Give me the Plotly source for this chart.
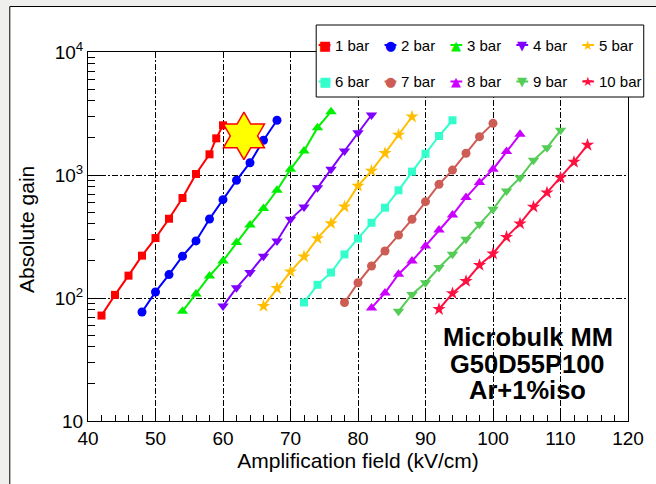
import plotly.graph_objects as go

# Gas gain curves of a microbulk Micromegas (G50D55P100) in Ar+1% isobutane,
# one curve per pressure setting.
field_1bar = [42, 44, 46, 48, 50, 52, 54, 56, 58, 59, 60]
gain_1bar = [72, 106, 152, 221, 307, 441, 650, 1019, 1473, 1986, 2535]

field_2bar = [48, 50, 52, 54, 56, 58, 60, 62, 64, 66, 68]
gain_2bar = [77, 112, 155, 219, 291, 439, 630, 906, 1259, 1916, 2786]

field_3bar = [54, 56, 58, 60, 62, 64, 66, 68, 70, 72, 74, 76]
gain_3bar = [78, 108, 151, 200, 282, 392, 535, 751, 1112, 1567, 2427, 3272]

field_4bar = [60, 62, 64, 66, 68, 70, 72, 74, 76, 78, 80, 82]
gain_4bar = [86, 121, 161, 219, 291, 436, 550, 789, 1112, 1567, 2208, 3076]

field_5bar = [66, 68, 70, 72, 74, 76, 78, 80, 82, 84, 86, 88]
gain_5bar = [86, 120, 164, 217, 305, 404, 552, 815, 1079, 1503, 2118, 2977]

field_6bar = [72, 74, 76, 78, 80, 82, 84, 86, 88, 90, 92, 94]
gain_6bar = [92, 128, 161, 226, 305, 409, 542, 751, 1065, 1490, 2075, 2786]

field_7bar = [78, 80, 82, 84, 86, 88, 90, 92, 94, 96, 98, 100]
gain_7bar = [92, 133, 182, 241, 325, 436, 607, 840, 1096, 1503, 2051, 2630]

field_8bar = [82, 84, 86, 88, 90, 92, 94, 96, 98, 100, 102, 104]
gain_8bar = [83, 110, 156, 200, 265, 357, 473, 655, 867, 1112, 1549, 2143]

field_9bar = [86, 88, 90, 92, 94, 96, 98, 100, 102, 104, 106, 108, 110]
gain_9bar = [78, 107, 133, 177, 227, 300, 397, 526, 740, 950, 1316, 1667, 2307]

field_10bar = [92, 94, 96, 98, 100, 102, 104, 106, 108, 110, 112, 114]
gain_10bar = [81, 109, 137, 185, 229, 313, 402, 550, 718, 950, 1276, 1754]

# highlighted operating point
point_field = [63.1]
point_gain = [2080]

series_names = ["1 bar", "2 bar", "3 bar", "4 bar", "5 bar",
                "6 bar", "7 bar", "8 bar", "9 bar", "10 bar"]
series_fields = [field_1bar, field_2bar, field_3bar, field_4bar, field_5bar,
                 field_6bar, field_7bar, field_8bar, field_9bar, field_10bar]
series_gains = [gain_1bar, gain_2bar, gain_3bar, gain_4bar, gain_5bar,
                gain_6bar, gain_7bar, gain_8bar, gain_9bar, gain_10bar]

colors = ["#ff0000", "#0000ff", "#00f000", "#8000ff", "#ffbf00",
          "#33ffcc", "#cd5c55", "#cc00ff", "#55cc55", "#ff1040"]
symbols = ["square", "circle", "triangle-up", "triangle-down", "star",
           "square", "circle", "triangle-up", "triangle-down", "star"]
sizes = [8, 9, 10, 10, 10, 8, 9, 10, 10, 10]
# glyphs used for the hand-placed legend
glyphs = {"square": "\u25A0", "circle": "\u25CF", "triangle-up": "\u25B2",
          "triangle-down": "\u25BC", "star": "\u2605"}

x_ticks = [40, 50, 60, 70, 80, 90, 100, 110, 120]
y_ticks = [10, 100, 1000, 10000]
y_tick_text = ["10", "10<sup>2</sup>", "10<sup>3</sup>", "10<sup>4</sup>"]

FONT = "Liberation Sans, Arial, sans-serif"

# plot-area geometry in pixels, used to place paper-referenced decorations
L, R, T, B = 88, 637, 52, 421


def px_x(px):
    return (px - L) / (R - L)


def px_y(py):
    return (B - py) / (B - T)


fig = go.Figure()

for i in range(10):
    fig.add_trace(go.Scatter(
        x=series_fields[i], y=series_gains[i], name=series_names[i],
        mode="lines+markers",
        line=dict(color=colors[i], width=2),
        marker=dict(symbol=symbols[i], size=sizes[i], color=colors[i], line=dict(width=0)),
        showlegend=False,
    ))

fig.add_trace(go.Scatter(
    x=point_field, y=point_gain, mode="markers", showlegend=False,
    marker=dict(symbol="hexagram", size=36, color="#ffff00",
                line=dict(color="#ff0000", width=1.5)),
))

grid_dash = "6px,2px,2px,2px"
minor_y = [m * 10 ** d for d in (1, 2, 3) for m in range(2, 10)]

fig.update_xaxes(
    range=[40, 120], tickmode="array", tickvals=x_ticks,
    ticks="inside", ticklen=11, tickcolor="black", tickwidth=1,
    minor=dict(ticks="inside", ticklen=6, dtick=2, tick0=40, tickcolor="black", showgrid=False),
    showline=True, linecolor="black", linewidth=1, mirror=True,
    showgrid=True, gridcolor="black", gridwidth=1, griddash=grid_dash,
    tickfont=dict(family=FONT, size=19, color="black"),
    title=dict(text="Amplification field (kV/cm)", font=dict(family=FONT, size=21, color="black"),
               standoff=4),
    zeroline=False,
)
fig.update_yaxes(
    type="log", range=[1, 4], tickmode="array", tickvals=y_ticks, ticktext=y_tick_text,
    ticks="inside", ticklen=12, tickcolor="black", tickwidth=1,
    minor=dict(ticks="inside", ticklen=7, tickmode="array", tickvals=minor_y,
               tickcolor="black", showgrid=False),
    showline=True, linecolor="black", linewidth=1, mirror=True,
    showgrid=True, gridcolor="black", gridwidth=1, griddash=grid_dash,
    tickfont=dict(family=FONT, size=19, color="black"),
    zeroline=False,
)

# y-axis title
fig.add_annotation(
    text="Absolute gain", xref="paper", yref="paper", x=px_x(26), y=px_y(230),
    xanchor="center", yanchor="middle", textangle=-90, showarrow=False,
    font=dict(family=FONT, size=21, color="black"),
)

# canvas frame
fig.add_shape(type="rect", xref="paper", yref="paper",
              x0=px_x(8.5), x1=px_x(700), y0=px_y(520), y1=px_y(6.5),
              fillcolor="white", line=dict(color="black", width=1), layer="below")

# legend box with two rows of five entries
fig.add_shape(type="rect", xref="paper", yref="paper",
              x0=px_x(320), x1=px_x(653), y0=px_y(97), y1=px_y(25),
              fillcolor="white", line=dict(color="black", width=1), layer="above")
col_x = [328.5, 395.5, 462.5, 529.5, 596.5]
row_y = [45, 81.5]
for i, name in enumerate(series_names):
    cx, cy = col_x[i % 5], row_y[i // 5]
    fig.add_shape(type="line", xref="paper", yref="paper",
                  x0=px_x(cx - 6), x1=px_x(cx + 6), y0=px_y(cy), y1=px_y(cy),
                  line=dict(color=colors[i], width=2), layer="above")
    fig.add_annotation(
        text=glyphs[symbols[i]], xref="paper", yref="paper", x=px_x(cx), y=px_y(cy),
        xanchor="center", yanchor="middle", showarrow=False,
        font=dict(family="DejaVu Sans", size=13, color=colors[i]),
    )
    fig.add_annotation(
        text=name, xref="paper", yref="paper", x=px_x(cx + 9), y=px_y(cy),
        xanchor="left", yanchor="middle", showarrow=False,
        font=dict(family=FONT, size=15, color="black"),
    )

for text, ypx in [("Microbulk MM", 337), ("G50D55P100", 364), ("Ar+1%iso", 390)]:
    fig.add_annotation(
        text="<b>" + text + "</b>", xref="paper", yref="paper",
        x=px_x(535), y=px_y(ypx), xanchor="center", yanchor="middle",
        showarrow=False, font=dict(family=FONT, size=25.5, color="black"),
    )

fig.update_layout(
    width=656, height=484,
    margin=dict(l=L, r=656 - R, t=T, b=484 - B),
    paper_bgcolor="#efefed", plot_bgcolor="white",
    showlegend=False,
)

fig.write_html("out.html")
